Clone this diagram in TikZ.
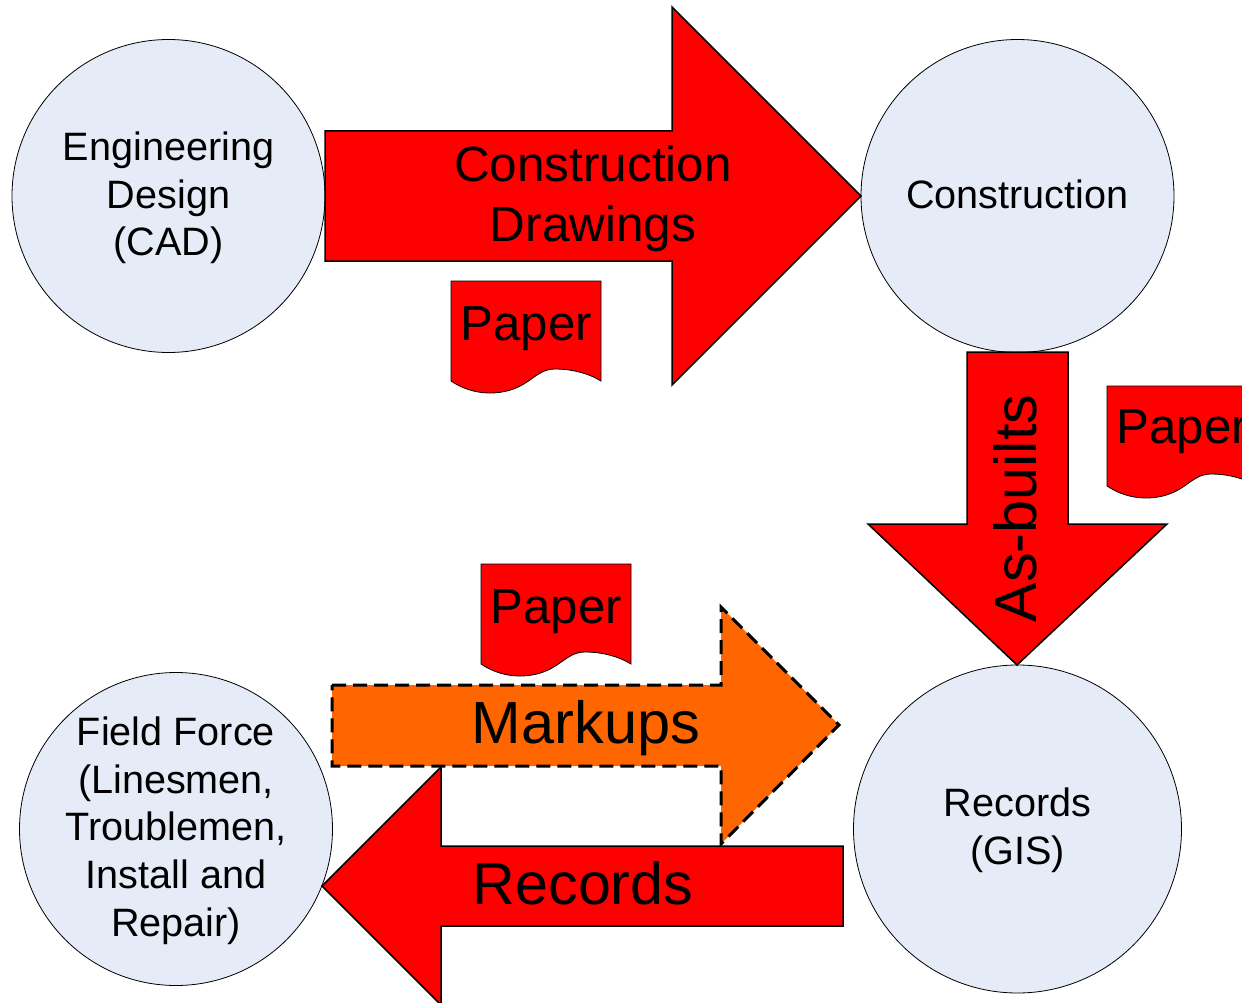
\documentclass[tikz,border=0pt]{standalone}
\usepackage{fontspec}
\setmainfont{Liberation Sans}
\definecolor{circlefill}{HTML}{E6ECF7}
\definecolor{markupfill}{HTML}{FF6600}
\tikzset{
	station/.style = {circle, draw, fill = circlefill, line width = 0.8pt, inner sep = 0pt},
	stationtext/.style = {inner sep = 0pt, align = center, font = \fontsize{39.6}{47.7}\selectfont},
	flow/.style = {draw, fill = red, line width = 1.5pt, line join = miter},
	markup/.style = {draw, fill = markupfill, line width = 3pt, dash pattern = on 14pt off 7pt},
	flowtext/.style = {inner sep = 0pt, align = center},
	sheet/.style = {draw, fill = red, line width = 0.8pt}
}

\begin{document}
\begin{tikzpicture}[x = 1pt, y = -1pt]
		\clip (0,0) rectangle (1242,1003);
		
		\node [station, minimum size = 313pt] (design) at (168.5,196) {};
		\node [station, minimum size = 313pt] (build) at (1017.5,196) {};
		\node [station, minimum size = 328pt] (gis) at (1017.5,829) {};
		\node [station, minimum size = 313pt] (field) at (176,829) {};
		
		\node [stationtext, yshift = -2pt] (designtext) at (design) {Engineering\\Design\\(CAD)};
		\node [stationtext, yshift = 2pt] (buildtext) at (build) {Construction};
		\node [stationtext, yshift = -1.5pt] (gistext) at (gis) {Records\\(GIS)};
		\node [stationtext, yshift = -1.5pt] (fieldtext) at (field) {Field Force\\(Linesmen,\\Troublemen,\\Install and\\Repair)};
		
		\draw [flow] (325,131) -- (672,131) -- (672,7) -- (861,196) -- (672,385) -- (672,261) -- (325,261) -- cycle;
		\draw [flow] (967,352) -- (1068,352) -- (1068,524) -- (1167,524) -- (1017,665) -- (868,524) -- (967,524) -- cycle;
		\draw [flow] (843,846) -- (441,846) -- (441,767) -- (322,886) -- (441,1005) -- (441,926) -- (843,926) -- cycle;
		\draw [markup] (332,685) -- (721,685) -- (721,607) -- (839,725) -- (721,844) -- (721,766) -- (332,766) -- cycle;
		
		\node [flowtext, font = \fontsize{49.5}{60}\selectfont] (drawings) at (593,199) {Construction\\Drawings};
		\node [flowtext, font = \fontsize{59.4}{60}\selectfont, rotate = 90, anchor = base] (asbuilts) at (1036,508.5) {As-builts};
		\node [flowtext, font = \fontsize{59.5}{60}\selectfont, anchor = base] (markups) at (586,743) {Markups};
		\node [flowtext, font = \fontsize{59.2}{60}\selectfont, anchor = base] (records) at (583,904) {Records};
		
		\foreach \x/\y/\b/\n in {451/281/59/a, 1107/386/57/b, 481/564/59/c} {
			\begin{scope}[shift = {(\x,\y)}]
				\draw [sheet] (0,0) -- (150,0) -- (150,100) .. controls (137,92) and (120,88) .. (104,88) .. controls (92,88) and (85,95) .. (76,101) .. controls (64,109) and (52,112) .. (39,112) .. controls (25,112) and (12,108) .. (0,100) -- cycle;
				\node [flowtext, font = \fontsize{49.2}{60}\selectfont, anchor = base west] (paper\n) at (9.5,\b) {Paper};
			\end{scope}
		}
	\end{tikzpicture}
\end{document}
